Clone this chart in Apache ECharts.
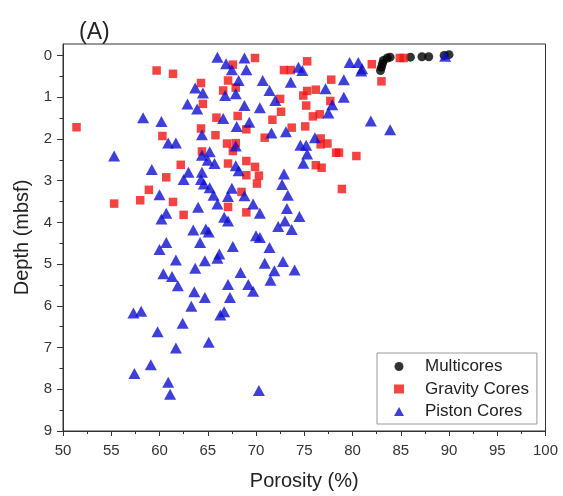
<!DOCTYPE html>
<html>
<head>
<meta charset="utf-8">
<script src="https://cdn.jsdelivr.net/npm/echarts@6/dist/echarts.min.js"></script>
<style>
  html, body { margin: 0; padding: 0; background: #fff; }
  #chart { width: 563px; height: 496px; }
</style>
</head>
<body>
<div id="chart"></div>
<script>
// porosity (%), depth (mbsf)
var multicores = [
  [82.9, 0.36], [83.0, 0.28], [83.1, 0.2], [83.2, 0.12], [83.6, 0.06], [83.9, 0.04],
  [86.0, 0.04], [87.2, 0.03], [87.9, 0.03], [89.5, 0.0], [90.0, -0.02]
];
var gravityCores = [
  [59.7, 0.36], [61.4, 0.44], [51.4, 1.72], [69.9, 0.06], [67.6, 0.22], [64.3, 0.66],
  [67.1, 0.6], [66.6, 0.84], [67.9, 0.77], [64.5, 1.16], [65.9, 1.49], [68.1, 1.45],
  [64.3, 1.75], [69.0, 1.77], [60.3, 1.93], [65.8, 1.91], [70.9, 1.97], [67.0, 2.11],
  [67.9, 2.1], [67.6, 2.29], [64.4, 2.3], [62.2, 2.62], [67.1, 2.59], [69.0, 2.53],
  [69.9, 2.67], [69.0, 2.87], [70.3, 2.88], [70.1, 3.07], [60.7, 2.92], [58.9, 3.22],
  [58.0, 3.47], [55.3, 3.55], [61.4, 3.51], [68.5, 3.27], [67.1, 3.63], [62.5, 3.82],
  [69.0, 3.76], [72.9, 0.35], [73.6, 0.35], [73.7, 1.73], [72.6, 1.35], [72.5, 1.04],
  [71.7, 1.54], [75.3, 0.14], [82.0, 0.21], [83.0, 0.62], [84.9, 0.06], [85.3, 0.06],
  [77.8, 0.58], [76.2, 0.82], [75.3, 0.85], [74.9, 0.96], [77.7, 1.09], [75.2, 1.2],
  [75.9, 1.46], [76.6, 1.41], [75.1, 1.7], [76.7, 1.99], [77.4, 2.11], [76.7, 2.13],
  [78.3, 2.33], [78.6, 2.33], [80.4, 2.41], [76.2, 2.63], [76.8, 2.69], [78.9, 3.2]
];
var pistonCores = [
  [66.0, 0.04], [68.8, 0.06], [66.9, 0.2], [67.5, 0.34], [69.0, 0.34], [68.2, 0.6],
  [70.7, 0.6], [71.4, 0.84], [73.6, 0.64], [74.4, 0.28], [74.8, 0.36], [79.7, 0.17],
  [80.6, 0.17], [80.9, 0.37], [79.1, 0.58], [77.2, 0.8], [79.1, 1.0], [77.9, 1.18],
  [77.5, 1.38], [81.9, 1.57], [83.9, 1.78], [81.0, 0.32], [89.6, 0.02],
  [63.7, 0.78], [64.5, 0.9], [66.8, 0.96], [67.9, 0.92], [62.9, 1.16], [63.9, 1.28],
  [68.8, 1.2], [70.4, 1.25], [72.0, 1.08], [58.3, 1.49], [60.2, 1.58], [66.6, 1.51],
  [69.3, 1.6], [68.0, 1.7], [71.6, 1.86], [73.1, 1.83], [64.4, 1.9], [76.1, 1.97],
  [60.9, 2.1], [61.7, 2.1], [67.9, 2.17], [74.6, 2.15], [75.2, 2.15], [75.3, 2.36],
  [74.9, 2.58], [55.3, 2.41], [65.2, 2.31], [64.4, 2.39], [65.0, 2.51], [65.7, 2.59],
  [59.2, 2.73], [63.0, 2.8], [62.5, 2.97], [64.4, 2.8], [64.3, 2.97], [64.6, 3.08],
  [65.2, 3.17], [65.6, 3.35], [66.0, 3.56], [67.9, 2.64], [68.2, 2.76], [67.5, 3.18],
  [67.1, 3.38], [68.8, 3.36], [69.7, 3.56], [70.4, 3.78], [72.9, 2.84], [72.7, 3.09],
  [73.3, 3.35], [73.2, 3.67], [60.0, 3.34], [60.7, 3.78], [60.2, 3.92], [64.0, 3.64],
  [66.7, 3.88], [67.1, 3.97], [73.0, 3.97], [72.3, 4.1], [73.7, 4.17], [74.5, 3.86],
  [63.5, 4.18], [64.8, 4.16], [65.1, 4.23], [64.2, 4.48], [67.6, 4.58], [70.0, 4.32],
  [70.4, 4.36], [71.4, 4.6], [60.7, 4.48], [60.0, 4.65], [66.2, 4.76], [66.0, 4.86],
  [61.7, 4.9], [64.7, 4.92], [63.7, 5.1], [60.4, 5.23], [61.3, 5.3], [61.9, 5.52],
  [63.6, 5.66], [64.7, 5.8], [67.1, 5.49], [67.3, 5.8], [68.4, 5.2], [69.2, 5.49],
  [69.7, 5.65], [70.9, 4.98], [71.9, 5.16], [71.5, 5.39], [72.8, 4.94], [74.0, 5.14],
  [63.3, 6.01], [66.3, 6.22], [66.7, 6.14], [57.3, 6.17], [58.1, 6.13], [62.4, 6.42],
  [59.8, 6.62], [65.1, 6.87], [61.7, 7.01], [59.1, 7.41], [57.4, 7.62], [60.9, 7.83],
  [61.1, 8.12], [70.3, 8.03]
];
var yTicks = [0, 1, 2, 3, 4, 5, 6, 7, 8, 9];
var yMinorTicks = [0.5, 1.5, 2.5, 3.5, 4.5, 5.5, 6.5, 7.5, 8.5];

var chart = echarts.init(document.getElementById('chart'));
var font = 'Liberation Sans, Arial, sans-serif';
var axisColor = '#333';

chart.setOption({
  animation: false,
  textStyle: { fontFamily: font },
  title: {
    text: '(A)',
    left: 74,
    top: 16,
    textStyle: { fontSize: 23, fontWeight: 'normal', color: '#222', fontFamily: font }
  },
  grid: {
    left: 63, right: 17.5, top: 44, bottom: 63.7,
    show: true, borderColor: axisColor, borderWidth: 1
  },
  legend: {
    orient: 'vertical',
    left: 377, top: 353,
    padding: [5, 8, 4, 17],
    itemWidth: 10, itemHeight: 9, itemGap: 5.5,
    borderColor: '#999', borderWidth: 1,
    backgroundColor: '#fff',
    textStyle: { fontSize: 17, color: '#222', fontFamily: font, padding: [0, 0, 0, 16] },
    data: [
      { name: 'Multicores', icon: 'circle' },
      { name: 'Gravity Cores', icon: 'rect' },
      { name: 'Piston Cores', icon: 'triangle' }
    ]
  },
  xAxis: {
    type: 'value', min: 50, max: 100, interval: 5,
    name: 'Porosity (%)', nameLocation: 'middle', nameGap: 40,
    nameTextStyle: { fontSize: 20, color: '#222', fontFamily: font },
    axisLine: { onZero: false, lineStyle: { color: axisColor } },
    axisTick: { length: 5, lineStyle: { color: axisColor } },
    minorTick: { show: true, splitNumber: 2, length: 3, lineStyle: { color: axisColor } },
    axisLabel: { fontSize: 15, color: '#333', margin: 12 },
    splitLine: { show: false }
  },
  yAxis: [{
    type: 'value', inverse: true, min: -0.275, max: 9,
    name: 'Depth (mbsf)', nameLocation: 'middle', nameGap: 26,
    nameTextStyle: { fontSize: 20, color: '#222', fontFamily: font },
    axisLine: { show: true, onZero: false, lineStyle: { color: axisColor } },
    axisTick: { show: true, customValues: yTicks, length: 6, lineStyle: { color: axisColor } },
    axisLabel: { customValues: yTicks, fontSize: 15, color: '#333', margin: 11 },
    splitLine: { show: false }
  }, {
    type: 'value', inverse: true, min: -0.275, max: 9, position: 'left',
    axisLine: { show: false, onZero: false },
    axisTick: { show: true, customValues: yMinorTicks, length: 3.5, lineStyle: { color: axisColor } },
    axisLabel: { show: false },
    splitLine: { show: false }
  }],
  series: [{
    name: 'Multicores', type: 'scatter', data: multicores,
    symbol: 'circle', symbolSize: 9,
    itemStyle: { color: '#000' }
  }, {
    name: 'Gravity Cores', type: 'scatter', data: gravityCores,
    symbol: 'rect', symbolSize: 8.5,
    itemStyle: { color: '#f01414' }
  }, {
    name: 'Piston Cores', type: 'scatter', data: pistonCores,
    symbol: 'triangle', symbolSize: [12, 11],
    itemStyle: { color: '#0f0fd0' }
  }]
});
</script>
</body>
</html>
